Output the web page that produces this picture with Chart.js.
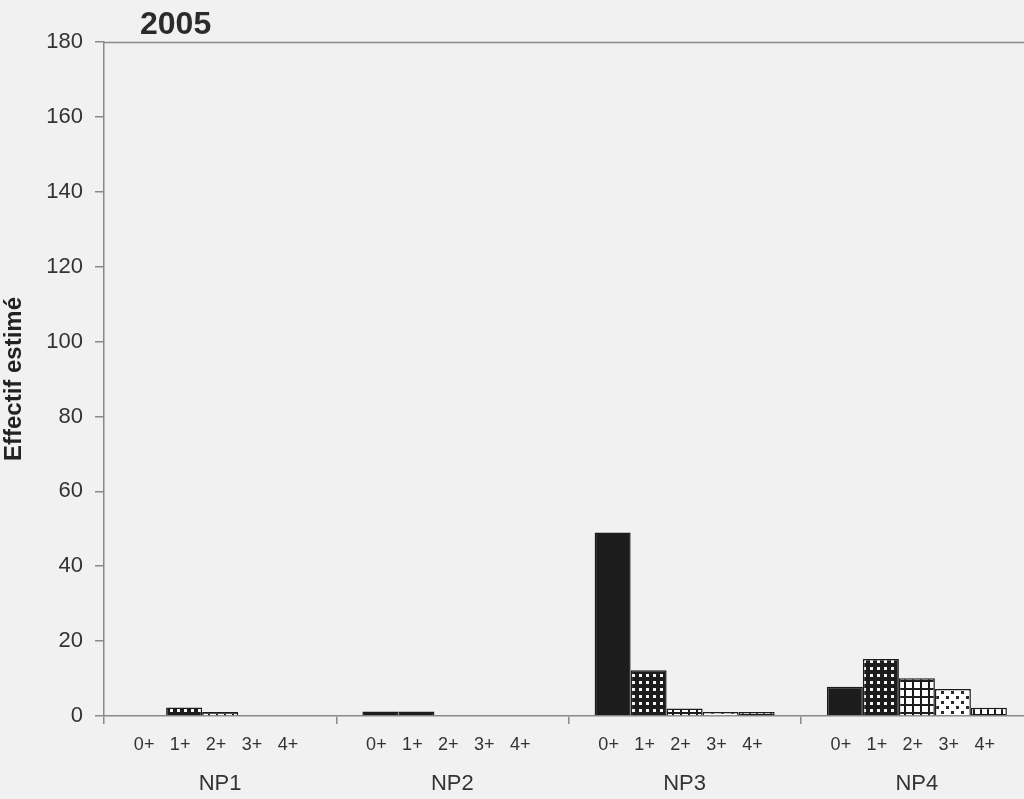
<!DOCTYPE html>
<html>
<head>
<meta charset="utf-8">
<script src="https://cdn.jsdelivr.net/npm/chart.js@4/dist/chart.umd.min.js"></script>
<style>
  html, body { margin:0; padding:0; background:#f1f1f1; overflow:hidden; }
  #wrap { width:1034px; height:799px; position:relative; }
</style>
</head>
<body>
<div id="wrap"><canvas id="c"></canvas></div>
<script>
const groups = ['NP1', 'NP2', 'NP3', 'NP4'];
const ages = ['0+', '1+', '2+', '3+', '4+'];
const age0 = [0, 1.2, 49, 7.8];
const age1 = [2.3, 1.2, 12.2, 15.2];
const age2 = [1.1, 0, 2.0, 10.1];
const age3 = [0, 0, 1.1, 7.2];
const age4 = [0, 0, 1.1, 2.2];
const yTicks = [0, 20, 40, 60, 80, 100, 120, 140, 160, 180];
const titleText = '2005';
const yTitle = 'Effectif estimé';

function tile(size, draw) {
  const c = document.createElement('canvas');
  c.width = size; c.height = size;
  const g = c.getContext('2d');
  draw(g, size);
  return document.getElementById('c').getContext('2d').createPattern(c, 'repeat');
}
const patSolid = '#1c1c1c';
const patDarkDots = tile(7, (g, s) => { g.fillStyle = '#1c1c1c'; g.fillRect(0,0,s,s); g.fillStyle = '#f4f4f4'; g.fillRect(2,2,3,3); });
const patGrid = tile(8, (g, s) => { g.fillStyle = '#ffffff'; g.fillRect(0,0,s,s); g.fillStyle = '#1c1c1c'; g.fillRect(0,0,s,2); g.fillRect(0,0,2,s); });
const patLightDots = tile(10, (g, s) => { g.fillStyle = '#ffffff'; g.fillRect(0,0,s,s); g.fillStyle = '#2a2a2a'; g.fillRect(1,1,3,3); g.fillRect(6,6,3,3); });
const patGrid2 = tile(7, (g, s) => { g.fillStyle = '#ffffff'; g.fillRect(0,0,s,s); g.fillStyle = '#1c1c1c'; g.fillRect(0,0,s,2); g.fillRect(0,0,2,s); });

const fills = [patSolid, patDarkDots, patGrid, patLightDots, patGrid2];
const series = [age0, age1, age2, age3, age4];

const datasets = series.map((vals, i) => ({
  label: ages[i],
  data: vals,
  backgroundColor: fills[i],
  borderColor: '#1c1c1c',
  borderWidth: 1.5,
  borderSkipped: 'bottom',
  categoryPercentage: 0.775,
  barPercentage: 1.0
}));

const decor = {
  id: 'decor',
  afterDraw(chart) {
    const ctx = chart.ctx, a = chart.chartArea;
    ctx.save();
    ctx.strokeStyle = '#8a8a8a';
    ctx.lineWidth = 1.5;
    ctx.beginPath();
    ctx.moveTo(a.left, a.top + 0.5);
    ctx.lineTo(a.right, a.top + 0.5);
    ctx.stroke();
    ctx.fillStyle = '#2b2b2b';
    ctx.font = 'bold 32px "Liberation Sans", Arial, sans-serif';
    ctx.textBaseline = 'middle';
    ctx.textAlign = 'left';
    ctx.fillText(titleText, a.left + 36, 25);
    ctx.font = '18px "Liberation Sans", Arial, sans-serif';
    ctx.textAlign = 'center';
    ctx.fillStyle = '#333';
    chart.data.datasets.forEach((ds, i) => {
      const meta = chart.getDatasetMeta(i);
      meta.data.forEach(bar => {
        ctx.fillText(ds.label, bar.x - 4, a.bottom + 29);
      });
    });
    ctx.restore();
  }
};

new Chart(document.getElementById('c'), {
  type: 'bar',
  data: { labels: groups, datasets },
  options: {
    responsive: true,
    maintainAspectRatio: false,
    animation: false,
    layout: { padding: { top: 42, right: 1, left: 0, bottom: 0 } },
    plugins: { legend: { display: false }, tooltip: { enabled: false } },
    scales: {
      x: {
        grid: { display: true, offset: true, drawOnChartArea: false, drawTicks: true, tickLength: 8, color: '#8a8a8a', lineWidth: 1.5 },
        border: { display: true, color: '#8a8a8a', width: 1.5 },
        ticks: { color: '#333', font: { size: 22, family: '"Liberation Sans", Arial, sans-serif' }, padding: 47 },
        afterFit(s) { s.height = 83; }
      },
      y: {
        min: 0, max: 180,
        afterBuildTicks(s) { s.ticks = yTicks.map(v => ({ value: v })); },
        grid: { display: true, drawOnChartArea: false, drawTicks: true, tickLength: 9, color: '#8a8a8a', lineWidth: 1.5 },
        border: { display: true, color: '#8a8a8a', width: 1.5 },
        ticks: { color: '#333', font: { size: 22, family: '"Liberation Sans", Arial, sans-serif' }, padding: 12 },
        title: { display: true, text: yTitle, color: '#222', font: { size: 24, weight: 'bold', family: '"Liberation Sans", Arial, sans-serif' }, padding: { top: 0, bottom: 4 } },
        afterFit(s) { s.width = 104; }
      }
    }
  },
  plugins: [decor]
});
</script>
</body>
</html>
